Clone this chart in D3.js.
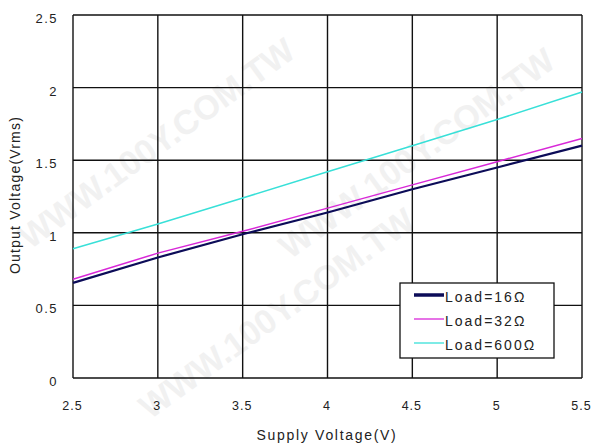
<!DOCTYPE html>
<html>
<head>
<meta charset="utf-8">
<script src="https://cdn.jsdelivr.net/npm/d3@7"></script>
<style>
  body { margin: 0; background: #fff; }
  text { font-family: "Liberation Sans", Arial, sans-serif; }
</style>
</head>
<body>
<svg width="592" height="444"></svg>
<script>
// Data
var supply = [2.5, 3, 3.5, 4, 4.5, 5, 5.5];
var load16 = [0.655, 0.83, 0.99, 1.14, 1.30, 1.45, 1.60];
var load32 = [0.68, 0.86, 1.01, 1.17, 1.33, 1.49, 1.65];
var load600 = [0.89, 1.06, 1.24, 1.42, 1.60, 1.78, 1.97];
var seriesNames = ["Load=16\u03a9", "Load=32\u03a9", "Load=600\u03a9"];
var xTicks = [2.5, 3, 3.5, 4, 4.5, 5, 5.5];
var yTicks = [0, 0.5, 1, 1.5, 2, 2.5];

var colors = ["#0c0c58", "#d828d8", "#38e0d8"],
    widths = [2.2, 1.5, 1.5];

var svg = d3.select("svg");
var pLeft = 73, pRight = 582, pTop = 15, pBottom = 378;

var x = d3.scaleLinear().domain([2.5, 5.5]).range([pLeft, pRight]);
var y = d3.scaleLinear().domain([0, 2.5]).range([pBottom, pTop]);

// faint watermark
var wm = svg.append("g").attr("fill", "#f1f1f1")
  .style("font-family", "'Liberation Serif', serif").style("font-weight", "bold")
  .style("font-size", "34px");
[[30, 250], [150, 420], [290, 260]].forEach(function(p) {
  wm.append("text").attr("transform", "translate(" + p[0] + "," + p[1] + ") rotate(-36)")
    .text("WWW.100Y.COM.TW");
});

// grid
var grid = svg.append("g").attr("stroke", "#111").attr("stroke-width", 1.4);
grid.selectAll(".vx").data(xTicks).enter().append("line")
  .attr("x1", d => x(d)).attr("x2", d => x(d))
  .attr("y1", pTop).attr("y2", pBottom);
grid.selectAll(".hy").data(yTicks).enter().append("line")
  .attr("x1", pLeft).attr("x2", pRight)
  .attr("y1", d => y(d)).attr("y2", d => y(d));

// tick labels
svg.selectAll(".xl").data(xTicks).enter().append("text")
  .attr("x", d => x(d) - 0.5).attr("y", 410)
  .attr("text-anchor", "middle").style("font-size", "12.5px").attr("fill", "#222")
  .style("letter-spacing", "1px")
  .text(d => d);
svg.selectAll(".yl").data(yTicks).enter().append("text")
  .attr("x", 58).attr("y", d => y(d) + 8)
  .attr("text-anchor", "end").style("font-size", "13px").attr("fill", "#222")
  .style("letter-spacing", "1.5px")
  .text(d => d);

// axis titles
svg.append("text").attr("x", 327).attr("y", 440)
  .attr("text-anchor", "middle").style("font-size", "14px").attr("fill", "#222")
  .style("letter-spacing", "1.7px")
  .text("Supply Voltage(V)");
svg.append("text").attr("transform", "translate(20,195) rotate(-90)")
  .attr("text-anchor", "middle").style("font-size", "14px").attr("fill", "#222")
  .style("letter-spacing", "1.2px")
  .text("Output Voltage(Vrms)");

// lines
var line = d3.line().x((d, i) => x(supply[i])).y(d => y(d));
[load16, load32, load600].forEach(function(s, i) {
  svg.append("path").datum(s)
    .attr("fill", "none").attr("stroke", colors[i]).attr("stroke-width", widths[i])
    .attr("d", line);
});

// legend
var lg = svg.append("g").attr("transform", "translate(400,283)");
lg.append("rect").attr("width", 154).attr("height", 75)
  .attr("fill", "#fff").attr("stroke", "#111").attr("stroke-width", 1.3);
seriesNames.forEach(function(n, i) {
  var yy = 12 + i * 24;
  lg.append("line").attr("x1", 14).attr("x2", 44).attr("y1", yy).attr("y2", yy)
    .attr("stroke", colors[i]).attr("stroke-width", i == 0 ? 3.5 : 1.3);
  lg.append("text").attr("x", 45).attr("y", yy + 7)
    .style("font-size", "14px").style("letter-spacing", "2px")
    .attr("fill", "#222").text(n);
});
</script>
</body>
</html>
